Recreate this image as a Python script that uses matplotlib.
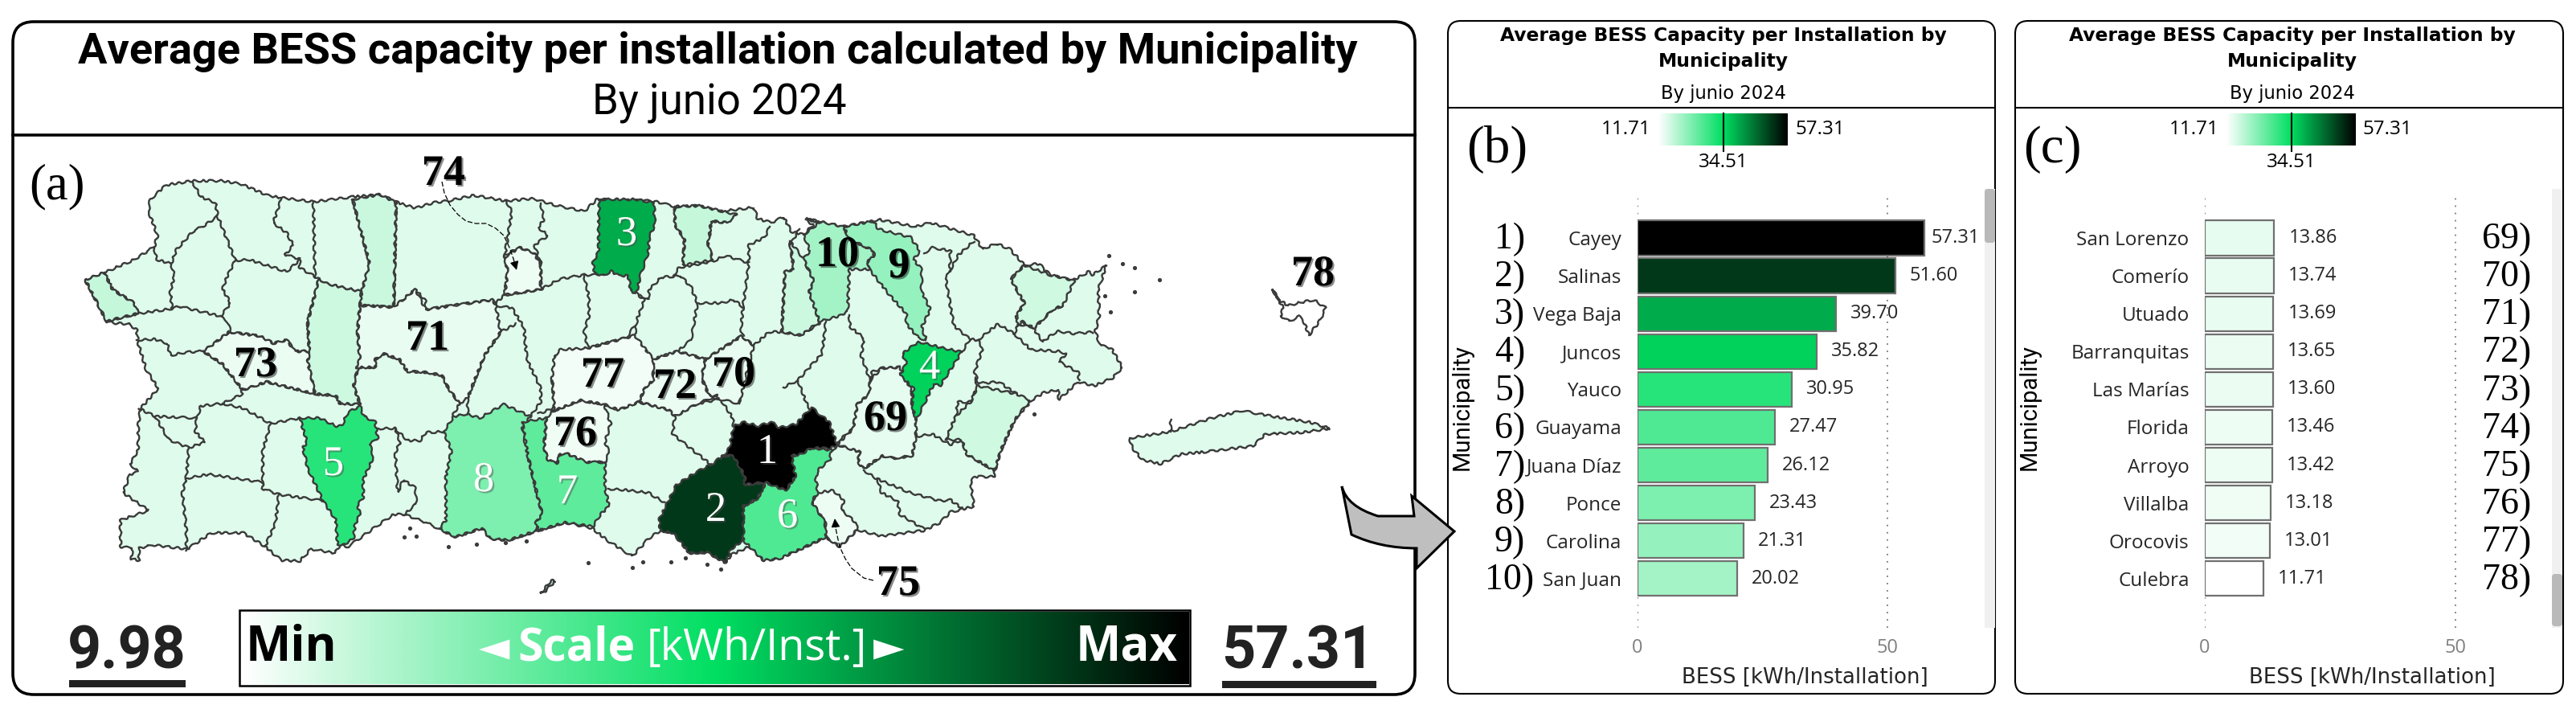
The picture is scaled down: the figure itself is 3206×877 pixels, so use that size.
import numpy as np
import matplotlib
matplotlib.use('Agg')
import matplotlib.pyplot as plt
import matplotlib.patheffects as pe
from matplotlib.colors import LinearSegmentedColormap, Normalize
from matplotlib.patches import FancyBboxPatch, PathPatch, Rectangle
from matplotlib.path import Path

W, H = 3206, 877

# bar chart data
top_names = ['Cayey', 'Salinas', 'Vega Baja', 'Juncos', 'Yauco', 'Guayama', 'Juana Díaz', 'Ponce', 'Carolina', 'San Juan']
top_values = [57.31, 51.60, 39.70, 35.82, 30.95, 27.47, 26.12, 23.43, 21.31, 20.02]
top_ranks = ['1)', '2)', '3)', '4)', '5)', '6)', '7)', '8)', '9)', '10)']
low_names = ['San Lorenzo', 'Comerío', 'Utuado', 'Barranquitas', 'Las Marías', 'Florida', 'Arroyo', 'Villalba', 'Orocovis', 'Culebra']
low_values = [13.86, 13.74, 13.69, 13.65, 13.60, 13.46, 13.42, 13.18, 13.01, 11.71]
low_ranks = ['69)', '70)', '71)', '72)', '73)', '74)', '75)', '76)', '77)', '78)']
base_value = 14.6

# map outlines, one list of vertices per municipality
island = [(106,348),(130,339),(167,323),(192,307),(196,293),(185,263),(187,248),(207,230),(240,225),(277,225),(300,229),
          (333,243),(350,246),(390,251),(438,245),(473,242),(495,252),(517,259),(540,252),(557,250),(590,243),(630,250),
          (663,247),(690,255),(727,263),(743,248),(813,250),(840,257),(870,256),(897,263),(938,258),(943,272),(960,277),
          (975,270),(985,288),(1000,292),(1012,280),(1003,273),(1050,282),(1087,275),(1093,273),(1140,282),(1158,277),
          (1212,293),(1223,310),(1240,303),(1257,310),(1275,330),(1293,328),(1307,342),(1335,349),(1355,338),(1360,342),
          (1377,330),(1367,360),(1368,393),(1363,413),(1370,430),(1383,433),(1397,457),(1385,470),(1362,480),(1342,475),
          (1318,497),(1317,485),(1300,488),(1285,497),(1263,522),(1247,557),(1240,578),(1237,593),(1213,593),(1208,600),
          (1212,630),(1183,637),(1170,650),(1150,660),(1133,662),(1097,667),(1067,659),(1045,680),(1028,668),(1003,680),
          (970,695),(950,697),(933,680),(910,690),(903,700),(880,687),(858,688),(838,663),(822,660),(807,670),(787,692),
          (757,673),(737,657),(703,650),(670,660),(633,672),(610,670),(600,657),(567,668),(547,658),(530,650),(503,640),
          (490,640),(478,648),(433,680),(423,678),(417,688),(387,683),(373,698),(350,697),(330,680),(303,663),(263,663),
          (233,683),(190,678),(173,682),(173,697),(163,695),(165,682),(150,680),(150,647),(185,635),(153,613),(162,590),
          (172,587),(162,577),(172,560),(172,530),(175,508),(197,483),(182,460),(172,427),(170,410),(160,403),(142,402),(133,400)]
vieques = [(1406,545),(1457,537),(1508,520),(1546,511),(1584,518),(1629,525),(1655,533),(1620,538),(1575,540),(1559,555),
           (1501,562),(1470,565),(1444,577),(1422,572),(1409,557)]
culebra = [(1584,360),(1590,372),(1603,380),(1620,376),(1635,373),(1650,383),(1642,400),(1629,417),(1622,398),(1616,393),(1605,400),(1594,393),(1597,383)]
caja_muertos = [(673,738),(686,722),(691,723),(679,735)]

cayey = [(900,567),(908,557),(913,530),(927,525),(943,530),(960,525),(970,532),(990,528),(1010,507),(1032,525),(1042,553),
         (1033,558),(1010,557),(997,565),(985,567),(990,593),(978,610),(970,607),(953,600),(927,603),(927,593),(913,567)]
salinas = [(900,567),(913,567),(927,593),(927,603),(953,600),(943,620),(925,630),(925,672),(910,683),(903,700),(880,687),
           (858,688),(838,663),(822,660),(820,647),(830,627),(842,603),(867,587),(885,578)]
vega_baja = [(746,248),(790,248),(814,252),(815,280),(808,295),(807,313),(797,343),(792,365),(785,362),(782,343),(770,343),
             (760,337),(752,343),(740,340),(738,327),(745,313),(745,280)]
juncos = [(1143,425),(1170,432),(1197,438),(1170,480),(1162,478),(1140,523),(1135,503),(1137,483),(1120,467),(1128,452),(1123,440)]
yauco = [(373,520),(398,520),(418,530),(425,530),(433,513),(448,505),(453,518),(467,525),(470,545),(460,553),(465,568),(452,597),
         (452,620),(445,628),(448,640),(442,652),(440,670),(427,678),(420,677),(418,647),(402,623),(383,583),(377,557),(382,550)]
guayama = [(985,567),(997,565),(1010,557),(1035,560),(1033,572),(1020,583),(1015,593),(1018,613),(1010,624),(1027,650),(1028,668),
           (1003,680),(970,695),(950,697),(933,680),(925,672),(925,630),(943,620),(953,600),(970,607),(978,610),(990,593)]
juana_diaz = [(650,525),(680,520),(677,557),(682,572),(693,577),(697,565),(707,565),(730,575),(753,575),(753,607),(758,630),(747,640),
              (738,655),(703,650),(670,660),(667,650),(675,640),(668,613),(657,567)]
ponce = [(552,537),(565,518),(580,515),(597,520),(627,503),(660,518),(650,533),(657,567),(668,613),(675,640),(667,650),(668,660),
         (633,672),(610,670),(600,657),(567,668),(547,658),(555,647),(555,593),(562,560)]
carolina = [(1050,282),(1087,275),(1093,285),(1133,295),(1145,312),(1137,323),(1147,335),(1147,363),(1158,385),(1147,407),(1153,423),
            (1143,420),(1128,403),(1128,390),(1107,367),(1082,335),(1080,323),(1088,320),(1087,312),(1057,297)]
san_juan = [(1000,292),(1020,277),(1003,272),(1050,282),(1057,297),(1087,312),(1088,320),(1080,323),(1082,335),(1057,335),(1055,387),
            (1045,393),(1020,400),(1007,363),(1013,350),(1000,322),(1008,312)]
san_lorenzo = [(1097,458),(1120,457),(1135,487),(1135,503),(1140,523),(1140,543),(1135,567),(1112,570),(1098,567),(1075,583),(1068,575),
               (1070,562),(1042,553),(1062,533),(1067,503),(1082,490),(1083,473)]
comerio = [(878,447),(923,418),(938,430),(933,450),(920,502),(897,497),(883,493),(873,470)]
utuado = [(448,380),(490,382),(517,360),(530,385),(613,373),(617,380),(623,413),(603,442),(582,495),(572,502),(558,483),(550,467),
          (530,463),(507,462),(497,447),(477,440),(467,447),(467,457),(443,457),(448,447),(445,413)]
barranquitas = [(813,447),(843,437),(878,447),(873,470),(883,493),(893,492),(868,502),(840,518),(833,510),(795,500),(803,482),(813,473)]
las_marias = [(285,413),(323,418),(340,427),(357,423),(367,437),(385,437),(383,450),(392,490),(332,475),(302,485),(277,453),(253,437),(267,427)]
florida = [(647,308),(665,315),(673,330),(673,360),(628,367),(632,337),(628,320)]
arroyo = [(1010,624),(1018,613),(1037,610),(1050,622),(1048,635),(1065,650),(1067,659),(1045,680),(1028,668),(1027,650)]
villalba = [(680,520),(687,512),(722,498),(752,503),(760,527),(753,550),(758,563),(753,575),(730,575),(707,565),(697,565),(693,577),(682,572),(677,557)]
orocovis = [(690,443),(697,435),(732,433),(780,420),(790,417),(813,447),(813,473),(803,482),(795,500),(770,510),(752,503),(722,498),(687,512),(690,507),(687,470)]
aguada = [(106,348),(130,339),(140,360),(167,377),(172,390),(143,397),(133,400)]
camuy = [(439,248),(473,242),(493,252),(490,382),(448,380),(450,363),(460,328),(448,283)]
adjuntas = [(397,347),(407,353),(450,363),(448,380),(445,413),(448,447),(440,480),(448,503),(423,502),(418,492),(392,490),(383,450),(385,437),(383,400)]
dorado = [(840,257),(870,256),(917,267),(905,277),(885,275),(883,293),(880,300),(887,323),(850,330),(852,297),(840,280)]
guaynabo = [(973,413),(977,338),(988,335),(983,300),(1000,322),(1013,350),(1007,363),(1020,400),(997,417)]
yabucoa = [(1177,547),(1190,517),(1208,500),(1217,480),(1265,490),(1282,498),(1263,522),(1247,557),(1240,578),(1237,585),(1203,565),(1197,547)]
fajardo = [(1258,347),(1275,330),(1307,342),(1337,349),(1323,380),(1310,385),(1287,408),(1272,400),(1267,405),(1265,393),(1275,377)]

shapes = [(aguada, 17.0), (camuy, 16.6), (adjuntas, 16.2), (dorado, 17.0), (guaynabo, 16.4), (yabucoa, 16.0), (fajardo, 16.0),
          (san_lorenzo, 13.86), (comerio, 13.74), (utuado, 13.69), (barranquitas, 13.65), (las_marias, 13.60), (florida, 13.46),
          (arroyo, 13.42), (villalba, 13.18), (orocovis, 13.01),
          (san_juan, 20.02), (carolina, 21.31), (ponce, 23.43), (juana_diaz, 26.12), (guayama, 27.47), (yauco, 30.95),
          (juncos, 35.82), (vega_baja, 39.70), (salinas, 51.60), (cayey, 57.31)]

borders = [
    [(240,227),(250,245),(268,252),(271,269),(293,324)],
    [(192,308),(195,323),(213,328),(220,310),(240,288),(255,280),(271,269)],
    [(130,339),(140,360),(167,377),(172,390)],
    [(213,328),(217,343),(212,363),(214,383)],
    [(143,397),(172,390),(214,384),(223,381),(273,393),(283,400),(287,413),(323,418),(340,427),(357,423),(367,437),(385,437)],
    [(293,324),(283,343),(277,360),(287,377),(275,393)],
    [(293,324),(310,323),(357,338),(373,323),(373,333),(397,347)],
    [(350,248),(340,277),(357,290),(365,305),(355,317),(373,322)],
    [(390,251),(392,345)],
    [(439,248),(448,283),(460,328),(450,363)],
    [(397,347),(407,353),(450,363)],
    [(448,380),(490,382),(493,252)],
    [(397,347),(383,400),(385,437),(383,450),(392,490)],
    [(450,363),(448,380),(445,413),(448,447),(440,480),(448,503)],
    [(170,423),(193,422),(208,427),(212,442),(233,438),(253,437),(267,427),(285,413)],
    [(253,437),(277,453),(300,482),(302,490),(277,502),(250,505),(245,520),(193,518),(173,508)],
    [(277,502),(303,508),(337,527),(373,520)],
    [(302,485),(332,475),(392,490),(418,492),(423,502),(448,503)],
    [(245,520),(243,537),(255,550),(235,557),(210,547),(193,518)],
    [(235,557),(232,593),(227,613),(232,660),(232,685)],
    [(232,595),(260,590),(293,595),(327,600)],
    [(337,527),(327,560),(327,608),(347,615),(402,623)],
    [(347,615),(343,650),(330,680)],
    [(470,533),(492,533),(498,550),(492,563),(495,612),(502,597),(517,607),(518,627),(503,640)],
    [(492,533),(507,548),(523,548),(530,538),(552,537)],
    [(443,457),(467,457),(467,447),(477,440),(497,447),(507,462),(530,463),(550,467),(558,483),(572,502),(563,518)],
    [(490,382),(517,360),(530,375),(530,385),(563,380),(613,373),(617,380),(637,383),(652,407),(655,440),(657,450),(673,483),(673,500),(660,518)],
    [(582,515),(582,495),(603,442),(623,413),(642,403)],
    [(687,470),(690,507),(670,515)],
    [(630,250),(637,263),(628,320),(632,337),(628,367),(617,377)],
    [(673,253),(677,273),(670,283),(682,293),(665,305),(673,327),(673,360)],
    [(628,317),(647,308),(665,315),(673,330)],
    [(628,367),(673,360),(697,347),(727,342),(743,342)],
    [(840,257),(840,280),(852,297),(850,330)],
    [(838,343),(845,333),(887,325),(903,318),(932,327)],
    [(917,267),(905,277),(885,275),(883,293),(880,300),(887,323)],
    [(958,282),(952,295),(932,305),(932,327),(925,380),(922,410),(925,418)],
    [(790,417),(793,397),(802,373),(792,365)],
    [(727,343),(733,370),(733,393),(727,413),(732,433),(780,420),(790,405)],
    [(797,367),(807,373),(808,360),(823,345),(847,343),(860,357),(868,377),(860,423),(843,437)],
    [(868,377),(897,377),(913,373),(925,382)],
    [(790,420),(813,447),(843,437),(878,447),(923,418),(938,430),(957,413),(973,413)],
    [(813,447),(813,473),(803,482),(795,500),(770,510),(752,503)],
    [(795,500),(833,510),(840,518),(837,540),(885,578)],
    [(878,447),(873,470),(883,493),(893,492),(920,502)],
    [(895,497),(868,502),(840,518)],
    [(897,497),(912,520),(913,530)],
    [(920,502),(922,483),(935,470),(933,450)],
    [(757,608),(783,610),(807,613),(827,625)],
    [(983,300),(988,335),(977,338),(973,413),(997,417),(1020,402)],
    [(995,285),(985,302)],
    [(1028,400),(1023,440),(993,473),(975,482)],
    [(1057,392),(1058,407),(1075,420),(1072,443),(1083,473),(1085,463),(1097,458),(1120,457)],
    [(993,473),(1003,500),(1013,517)],
    [(1083,473),(1082,490),(1067,503),(1062,533),(1042,550)],
    [(1042,553),(1070,562),(1068,575),(1075,583),(1098,567),(1112,570),(1135,567),(1140,540),(1135,487)],
    [(1140,543),(1160,540),(1183,553),(1197,547),(1203,565),(1237,585)],
    [(1177,547),(1190,517),(1192,500),(1208,500),(1217,480),(1213,470)],
    [(1197,438),(1207,422),(1217,423),(1223,433),(1213,463),(1218,477),(1243,475),(1265,490),(1263,495),(1282,498)],
    [(1207,422),(1187,405),(1177,347),(1182,337),(1183,312),(1160,308),(1150,315)],
    [(1182,337),(1193,317),(1212,300)],
    [(1217,423),(1242,403),(1262,415),(1267,405),(1265,393),(1275,377),(1258,347),(1275,330)],
    [(1262,415),(1283,435),(1317,437),(1327,440),(1318,450),(1342,463),(1343,473)],
    [(1267,403),(1285,407),(1298,425),(1315,412),(1337,415),(1360,413)],
    [(1272,400),(1287,408),(1310,385),(1323,380),(1330,357),(1337,349)],
    [(1075,585),(1090,595),(1133,613),(1170,623),(1183,622),(1197,632)],
    [(1092,595),(1097,613),(1117,623),(1120,640),(1150,658)],
    [(1037,560),(1042,553)],
    [(1457,537),(1457,522)],
]

islets = [(558,680),(593,677),(629,675),(655,673),(732,700),(787,706),(800,699),(835,699),(853,694),(880,702),(897,708),
          (503,668),(518,667),(510,657),(1375,368),(1382,388),(1397,328),(1287,515),(1380,318),(1412,333),(1443,348),(1412,363)]

# map labels: text, x, y, colour
map_labels = [('3', 780, 292, 'white'), ('10', 1042, 318, 'black'), ('9', 1119, 332, 'black'), ('78', 1634, 342, 'black'),
              ('4', 1157, 458, 'white'), ('69', 1102, 522, 'black'), ('71', 532, 422, 'black'), ('73', 318, 455, 'black'),
              ('77', 750, 468, 'black'), ('72', 840, 482, 'black'), ('70', 913, 467, 'black'), ('76', 716, 541, 'black'),
              ('5', 415, 578, 'white'), ('8', 602, 598, 'white'), ('7', 706, 613, 'white'), ('2', 891, 635, 'white'),
              ('1', 955, 563, 'white'), ('6', 980, 643, 'white'), ('74', 552, 217, 'black'), ('75', 1118, 727, 'black')]
leader_74 = [(550,226),(553,240),(560,255),(570,267),(580,275),(592,278),(605,278),(617,284),(627,293),(635,310),(639,322)]
leader_75 = [(1087,722),(1075,719),(1060,707),(1052,695),(1045,680),(1041,662),(1040,656)]

cmap = LinearSegmentedColormap.from_list('bess', ['#ffffff', '#00df62', '#000000'])
norm = Normalize(11.71, 57.31)
GRAD = np.linspace(0, 1, 512).reshape(1, -1)

fig = plt.figure(figsize=(W / 100, H / 100), dpi=100, facecolor='white')
ax = fig.add_axes([0, 0, 1, 1])
ax.set_xlim(0, W)
ax.set_ylim(H, 0)
ax.axis('off')

SANS = ['Open Sans', 'DejaVu Sans']
SERIF = ['Liberation Serif', 'DejaVu Serif']


def px_axes(x0, y0, x1, y1):
    a = fig.add_axes([x0 / W, 1 - y1 / H, (x1 - x0) / W, (y1 - y0) / H])
    return a


def panel(x0, y0, x1, y1, lw, rad):
    ax.add_patch(FancyBboxPatch((x0, y0), x1 - x0, y1 - y0, boxstyle='round,pad=0,rounding_size=%d' % rad,
                                fc='white', ec='black', lw=lw, zorder=1))


# panel (a)
panel(16, 27, 1761, 864, 2.6, 26)
ax.plot([16, 1761], [168, 168], color='black', lw=2.6, zorder=2)
ax.text(893, 64, 'Average BESS capacity per installation calculated by Municipality', family='Roboto', weight='bold',
        fontsize=39, ha='center', va='center', zorder=5)
ax.text(895, 128, 'By junio 2024', family='Roboto', weight='normal', fontsize=38, ha='center', va='center', zorder=5)
ax.text(71, 232, '(a)', family=SERIF, fontsize=45, ha='center', va='center', zorder=5)

LINE = '#3a3a3a'
SKETCH = (1.3, 14, 3)
for pts, val in [(island, base_value), (vieques, base_value), (caja_muertos, 18.0), (culebra, 11.71)]:
    xs, ys = zip(*pts)
    for p in ax.fill(xs, ys, fc=cmap(norm(val)), ec=LINE, lw=1.7, zorder=3, joinstyle='round'):
        p.set_sketch_params(*SKETCH)
for pts, val in shapes:
    xs, ys = zip(*pts)
    for p in ax.fill(xs, ys, fc=cmap(norm(val)), ec=LINE, lw=1.7, zorder=3.2, joinstyle='round'):
        p.set_sketch_params(*SKETCH)
for line in borders:
    xs, ys = zip(*line)
    l, = ax.plot(xs, ys, color=LINE, lw=1.7, zorder=3.1, solid_joinstyle='round')
    l.set_sketch_params(*SKETCH)
ax.scatter(*zip(*islets), s=14, color=LINE, zorder=3.3, linewidths=0)

shadow = [pe.SimplePatchShadow(offset=(1.5, -1.5), alpha=0.45), pe.Normal()]
for txt, x, y, col in map_labels:
    ax.text(x, y, txt, family=SERIF, weight='bold' if col == 'black' else 'normal', fontsize=39 if col == 'black' else 38,
            color=col, ha='center', va='center', zorder=6, path_effects=shadow)

for leader in (leader_74, leader_75):
    xs, ys = zip(*leader)
    ax.plot(xs, ys, color='black', lw=0.9, ls=(0, (5, 2)), zorder=6)
ax.annotate('', xy=(643, 336), xytext=leader_74[-1], zorder=6,
            arrowprops=dict(arrowstyle='-|>', color='black', lw=0.9, mutation_scale=16, shrinkA=0, shrinkB=0))
ax.annotate('', xy=(1039, 645), xytext=leader_75[-1], zorder=6,
            arrowprops=dict(arrowstyle='-|>', color='black', lw=0.9, mutation_scale=16, shrinkA=0, shrinkB=0))

# scale bar
ax_scale = px_axes(300, 761, 1480, 851)
ax_scale.imshow(GRAD, cmap=cmap, aspect='auto', extent=(0, 1, 0, 1))
ax_scale.axis('off')
ax.add_patch(Rectangle((298, 759), 1183, 94, fc='none', ec='black', lw=1.8, zorder=5))
ax_txt = px_axes(0, 0, W, H)
ax_txt.set_xlim(0, W)
ax_txt.set_ylim(H, 0)
ax_txt.axis('off')
ax_txt.patch.set_alpha(0)
ax_txt.set_zorder(10)
ax_txt.text(306, 806, 'Min', family=SANS, weight='bold', fontsize=43, color='black', ha='left', va='center')
ax_txt.text(1466, 806, 'Max', family=SANS, weight='bold', fontsize=43, color='white', ha='right', va='center')
ax_txt.text(596, 808, '◄', family=SANS, fontsize=36, color='white', ha='left', va='center')
ax_txt.text(644, 806, 'Scale', family=SANS, weight='bold', fontsize=41, color='white', ha='left', va='center')
ax_txt.text(805, 806, '[kWh/Inst.]', family=SANS, fontsize=39, color='white', ha='left', va='center')
ax_txt.text(1087, 808, '►', family=SANS, fontsize=36, color='white', ha='left', va='center')
ax_txt.text(158, 811, '9.98', family='Roboto', weight='bold', fontsize=53, color='#222222', ha='center', va='center')
ax_txt.text(1615, 811, '57.31', family='Roboto', weight='bold', fontsize=53, color='#222222', ha='center', va='center')
ax_txt.add_patch(Rectangle((86, 846), 145, 9, fc='#222222', ec='none'))
ax_txt.add_patch(Rectangle((1521, 847), 192, 9, fc='#222222', ec='none'))


def bar_panel(x0, x1, cx, zero, fifty, bar_right, names, values, ranks, letter, letter_x, rank_x, cb_x0, cb_x1, scroll_x0, thumb_y0, thumb_y1):
    panel(x0, 26, x1, 863, 1.5, 16)
    ax.plot([x0, x1], [134, 134], color='black', lw=1.5, zorder=2)
    ax.text(cx, 44, 'Average BESS Capacity per Installation by', family='DejaVu Sans', weight='bold', fontsize=16.8, ha='center', va='center', zorder=5)
    ax.text(cx, 76, 'Municipality', family='DejaVu Sans', weight='bold', fontsize=16.8, ha='center', va='center', zorder=5)
    ax.text(cx, 116, 'By junio 2024', family='DejaVu Sans', fontsize=16.3, ha='center', va='center', zorder=5)
    ax.text(letter_x, 186, letter, family=SERIF, fontsize=47, ha='center', va='center', zorder=5)

    # gradient legend
    ax_cb = px_axes(cb_x0, 141, cb_x1, 181)
    ax_cb.imshow(GRAD, cmap=cmap, aspect='auto', extent=(0, 1, 0, 1))
    ax_cb.axis('off')
    mid = (cb_x0 + cb_x1) / 2
    ax_txt.plot([mid, mid], [141, 188], color='black', lw=1.5)
    ax.text(cb_x0 - 9, 161, '11.71', family='Open Sans', fontsize=17.5, ha='right', va='center', zorder=5)
    ax.text(cb_x1 + 9, 161, '57.31', family='Open Sans', fontsize=17.5, ha='left', va='center', zorder=5)
    ax.text(mid, 202, '34.51', family='Open Sans', fontsize=17.5, ha='center', va='center', zorder=5)

    # scroll bar
    ax.add_patch(Rectangle((scroll_x0, 235), 13, 546, fc='#f0f0f0', ec='none', zorder=2))
    ax.add_patch(FancyBboxPatch((scroll_x0, thumb_y0), 13, thumb_y1 - thumb_y0, boxstyle='round,pad=0,rounding_size=4', fc='#b9b9b9', ec='none', zorder=3))

    # bars
    a = px_axes(zero, 240, scroll_x0, 781)
    a.patch.set_alpha(0)
    pos = np.arange(len(names))
    a.barh(pos, values, height=0.92, color=cmap(norm(values)), edgecolor='#707070', linewidth=1.6, zorder=3)
    a.set_xlim(0, (scroll_x0 - zero) / ((fifty - zero) / 50))
    a.set_ylim(10.3, -1.19)
    a.set_yticks(pos)
    a.set_yticklabels(names, family='Open Sans', fontsize=17.5, color='#252525')
    a.set_xticks([0, 50])
    a.set_xticklabels(['0', '50'], family='Open Sans', fontsize=17, color='#808080')
    a.tick_params(axis='both', length=0)
    a.tick_params(axis='y', pad=14)
    a.tick_params(axis='x', pad=9)
    a.xaxis.grid(True, color='#777777', ls=(0, (1, 4)), lw=1.3)
    a.set_axisbelow(True)
    for s in a.spines.values():
        s.set_visible(False)
    for i, v in enumerate(values):
        off = 9 if v > 55 else 18
        a.annotate('%.2f' % v, (v, i), xytext=(off * 0.72, 0), textcoords='offset points', family='Open Sans', fontsize=17,
                   color='#252525', ha='left', va='center', annotation_clip=False)
    for i, r in enumerate(ranks):
        rx = rank_x + 11 if r == '10)' else rank_x
        ax_txt.text(rx, 296 + 47.1 * i + 2, r, family=SERIF, fontsize=33, ha='right', va='center')
    ax.text(x0 + 18, 507, 'Municipality', family='Roboto', fontsize=21, rotation=90, ha='center', va='center', zorder=5)
    ax.text(bar_right, 843, 'BESS [kWh/Installation]', family='DejaVu Sans', fontsize=18.7, color='#252525', ha='right', va='center', zorder=5)


bar_panel(1802, 2483, 2145, 2037.6, 2349, 2400, top_names, top_values, top_ranks, '(b)', 1863, 1898, 2064, 2225, 2470, 235, 302)
bar_panel(2508, 3190, 2853, 2744, 3056, 3106, low_names, low_values, low_ranks, '(c)', 2554, 3150, 2771, 2932, 3176, 714, 779)

# grey arrow from the map to the charts
verts = [(1670, 605), (1676, 630), (1715, 642), (1760, 642), (1757, 617), (1810, 661), (1763, 707), (1763, 682),
         (1718, 682), (1682, 665), (1670, 605), (1670, 605)]
codes = [Path.MOVETO, Path.CURVE3, Path.CURVE3, Path.LINETO, Path.LINETO, Path.LINETO, Path.LINETO, Path.LINETO,
         Path.CURVE3, Path.CURVE3, Path.LINETO, Path.CLOSEPOLY]
ax_txt.add_patch(PathPatch(Path(verts, codes), fc='#bfbfbf', ec='black', lw=2.2, joinstyle='miter'))

fig.savefig('out.png', dpi=100)
